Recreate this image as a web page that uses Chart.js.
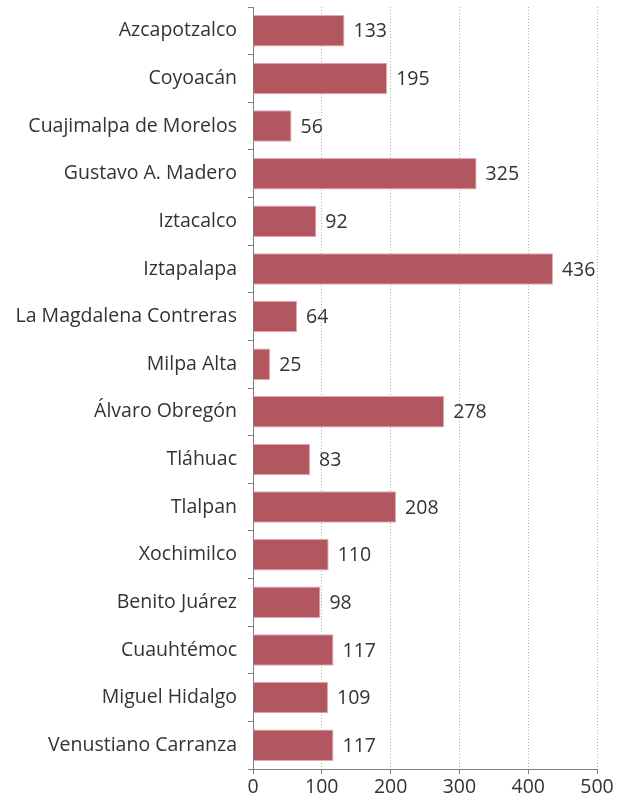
<!DOCTYPE html>
<html>
<head>
<meta charset="utf-8">
<script src="https://cdn.jsdelivr.net/npm/chart.js@4"></script>
<style>
  html, body { margin: 0; padding: 0; background: #fff; }
  #wrap { width: 627px; height: 801px; }
</style>
</head>
<body>
<div id="wrap"><canvas id="myChart"></canvas></div>
<script>
const alcaldias = ['Azcapotzalco', 'Coyoacán', 'Cuajimalpa de Morelos', 'Gustavo A. Madero', 'Iztacalco',
    'Iztapalapa', 'La Magdalena Contreras', 'Milpa Alta', 'Álvaro Obregón', 'Tláhuac', 'Tlalpan',
    'Xochimilco', 'Benito Juárez', 'Cuauhtémoc', 'Miguel Hidalgo', 'Venustiano Carranza'];
const valores = [133, 195, 56, 325, 92, 436, 64, 25, 278, 83, 208, 110, 98, 117, 109, 117];
const ticksX = [0, 100, 200, 300, 400, 500];

const fuente = '"Open Sans", "Noto Sans", sans-serif';

// etiquetas de valor al final de cada barra
const etiquetas = {
    id: 'etiquetas',
    afterDatasetsDraw(chart) {
        const ctx = chart.ctx;
        const meta = chart.getDatasetMeta(0);
        ctx.save();
        ctx.font = '19.5px ' + fuente;
        ctx.fillStyle = '#333333';
        ctx.textAlign = 'left';
        ctx.textBaseline = 'middle';
        meta.data.forEach((bar, i) => {
            ctx.fillText(valores[i], bar.x + 9, bar.y + 1);
        });
        ctx.restore();
    }
};

const ctx = document.getElementById('myChart');
const myChart = new Chart(ctx, {
    type: 'bar',
    data: {
        labels: alcaldias,
        datasets: [{
            data: valores,
            backgroundColor: 'rgb(178, 86, 96)',
            borderColor: 'rgb(226, 168, 175)',
            borderWidth: 1,
            borderSkipped: 'left',
            barPercentage: 0.66,
            categoryPercentage: 1
        }]
    },
    options: {
        indexAxis: 'y',
        responsive: true,
        maintainAspectRatio: false,
        animation: false,
        layout: { padding: { top: 7, right: 30, left: 0, bottom: 0 } },
        plugins: { legend: { display: false }, tooltip: { enabled: false } },
        scales: {
            x: {
                min: 0,
                max: 500,
                afterBuildTicks: (s) => { s.ticks = ticksX.map(v => ({ value: v })); },
                afterFit: (s) => { s.height = 32; s.paddingLeft = 0; s.paddingRight = 0; },
                grid: {
                    color: '#b0b0b0',
                    lineWidth: 1,
                    tickLength: 5,
                    tickColor: '#7f7f7f',
                    drawTicks: true,
                    tickBorderDash: []
                },
                border: { display: true, color: '#7f7f7f', width: 1, dash: [1, 2] },
                ticks: {
                    color: '#333333',
                    font: { family: fuente, size: 19.5 },
                    padding: 2,
                    maxRotation: 0
                }
            },
            y: {
                afterFit: (s) => { s.width = 253; s.paddingTop = 0; s.paddingBottom = 0; },
                grid: {
                    offset: true,
                    drawOnChartArea: false,
                    tickLength: 5,
                    tickColor: '#7f7f7f'
                },
                border: { display: true, color: '#7f7f7f', width: 1 },
                ticks: {
                    color: '#333333',
                    font: { family: fuente, size: 19.5 },
                    padding: 11
                }
            }
        }
    },
    plugins: [etiquetas]
});
</script>
</body>
</html>
